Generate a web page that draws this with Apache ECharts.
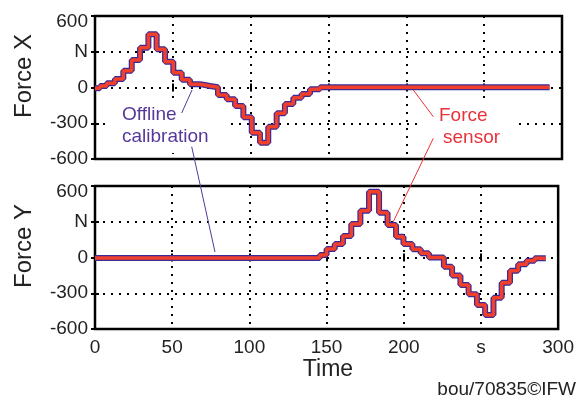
<!DOCTYPE html>
<html>
<head>
<meta charset="utf-8">
<script src="https://cdn.jsdelivr.net/npm/echarts@6/dist/echarts.min.js"></script>
<style>
  html, body { margin: 0; padding: 0; background: #fff; }
  #chart { width: 577px; height: 399px; }
</style>
</head>
<body>
<div id="chart"></div>
<script>
// step start times (s) and force levels (N)
const tX = [0, 3.2, 7.5, 12.8, 18.2, 23.6, 28.9, 34.3, 39.6, 45, 50.3, 55.7, 61, 67.5, 74, 79, 84.6, 90, 95.3, 100.7, 106, 111.3, 116.7, 122, 127.4, 132.7, 138.1, 144.5, 292];
const forceX = [-7, 12, 35, 71, 141, 231, 334, 446, 320, 216, 124, 66, 28, 13, 2, -63, -99, -155, -250, -379, -463, -329, -216, -138, -86, -55, -15, 3, 3];

const tY = [0, 145.6, 150, 155.3, 160.6, 166, 171.9, 177.5, 184, 189.5, 195, 199.8, 205.6, 211, 216.3, 226, 231.3, 236.7, 242, 247.4, 252.7, 258.1, 263.4, 268.8, 274.1, 279.5, 284.8, 292];
const forceY = [-5, 21, 71, 113, 180, 281, 393, 552, 376, 273, 175, 113, 69, 35, 0, -77, -150, -231, -309, -398, -482, -337, -211, -111, -57, -27, -7, -7];

const xTicks = [0, 50, 100, 150, 200, 250, 300];
const yTicks = [-600, -300, 0, 300, 600];

const FONT = 'Liberation Sans, Arial, sans-serif';
const BLUE = '#3d2a94';
const RED = '#f0402c';
const PURPLE_TXT = '#55389a';
const RED_TXT = '#e8333a';

const pairs = (t, v) => t.map((x, i) => [x, v[i]]);

const grids = [
  { left: 95, right: 15, top: 16, height: 143 },
  { left: 95, right: 15, top: 186, height: 143 }
];

const dotted = { color: '#000', width: 2, type: [2, 6] };
const tick = { show: true, inside: true, length: 4, lineStyle: { color: '#000', width: 2 } };

function xAxis(gridIndex, position, labels) {
  return {
    type: 'value', gridIndex, position,
    min: xTicks[0], max: xTicks[xTicks.length - 1], interval: 50,
    axisLine: { show: false },
    axisTick: tick,
    splitLine: { show: position === 'bottom', lineStyle: dotted },
    axisLabel: {
      show: labels, margin: 9, color: '#222', fontFamily: FONT, fontSize: 19,
      formatter: v => (v === 250 ? 's' : String(v))
    }
  };
}

function yAxis(gridIndex, position) {
  return {
    type: 'value', gridIndex, position,
    min: yTicks[0], max: yTicks[yTicks.length - 1], interval: 300,
    axisLine: { show: false },
    axisTick: tick,
    splitLine: { show: position === 'left', lineStyle: dotted },
    axisLabel: {
      show: position === 'left', margin: 7, color: '#222', fontFamily: FONT, fontSize: 19,
      formatter: v => (v === 600 ? '{lo|600}' : v === 300 ? 'N' : String(v)),
      rich: { lo: { fontFamily: FONT, fontSize: 19, color: '#222', padding: [11, 0, 0, 0] } }
    }
  };
}

function trace(data, xi, yi, color, width) {
  return {
    type: 'line', xAxisIndex: xi, yAxisIndex: yi,
    data, step: 'end', symbol: 'none', silent: true, z: 5,
    lineStyle: { color, width }
  };
}

function label(text, x, y, color, size, extra) {
  return Object.assign({
    type: 'text', x, y, z: 4,
    style: { text, font: size + 'px ' + FONT, fill: color, align: 'left', verticalAlign: 'middle' }
  }, extra || {});
}

function leader(x1, y1, x2, y2, color) {
  return { type: 'line', z: 6, shape: { x1, y1, x2, y2 }, style: { stroke: color, lineWidth: 1 } };
}

// white boxes behind the annotations hide the dotted grid
function blank(x, y, width, height) {
  return { type: 'rect', z: 3, shape: { x, y, width, height }, style: { fill: '#fff' } };
}

const chart = echarts.init(document.getElementById('chart'), null, { renderer: 'canvas' });

chart.setOption({
  animation: false,
  backgroundColor: '#fff',
  grid: grids.map(g => Object.assign({ show: true, borderColor: '#000', borderWidth: 2.5 }, g)),
  xAxis: [xAxis(0, 'bottom', false), xAxis(0, 'top', false), xAxis(1, 'bottom', true), xAxis(1, 'top', false)],
  yAxis: [yAxis(0, 'left'), yAxis(0, 'right'), yAxis(1, 'left'), yAxis(1, 'right')],
  series: [
    trace(pairs(tX, forceX), 0, 0, BLUE, 6),
    trace(pairs(tX, forceX), 0, 0, RED, 3.5),
    trace(pairs(tY, forceY), 2, 2, BLUE, 6),
    trace(pairs(tY, forceY), 2, 2, RED, 3.5)
  ],
  graphic: [
    label('Force X', 24, 76, '#222', 24, { rotation: Math.PI / 2, style: { text: 'Force X', font: '24px ' + FONT, fill: '#222', align: 'center', verticalAlign: 'middle' } }),
    label('Force Y', 24, 246, '#222', 24, { rotation: Math.PI / 2, style: { text: 'Force Y', font: '24px ' + FONT, fill: '#222', align: 'center', verticalAlign: 'middle' } }),
    label('Time', 328, 370, '#222', 23, { style: { text: 'Time', font: '23px ' + FONT, fill: '#222', align: 'center', verticalAlign: 'middle' } }),
    label('bou/70835\u00a9IFW', 576, 390, '#222', 19, { style: { text: 'bou/70835\u00a9IFW', font: '19px ' + FONT, fill: '#222', align: 'right', verticalAlign: 'middle' } }),

    // annotation: offline calibration
    blank(108, 98, 117, 55),
    label('Offline', 122, 115, PURPLE_TXT, 19),
    label('calibration', 122, 137, PURPLE_TXT, 19),
    leader(181.7, 113, 192, 90, PURPLE_TXT),
    leader(191.7, 146.7, 215, 252, PURPLE_TXT),

    // annotation: force sensor
    blank(422, 98, 95, 57),
    label('Force', 439, 116, RED_TXT, 19),
    label('sensor', 443, 138, RED_TXT, 19),
    leader(433.3, 116.7, 413.3, 90, RED_TXT),
    leader(433.3, 138.3, 393.3, 221.7, RED_TXT)
  ]
});
</script>
</body>
</html>
